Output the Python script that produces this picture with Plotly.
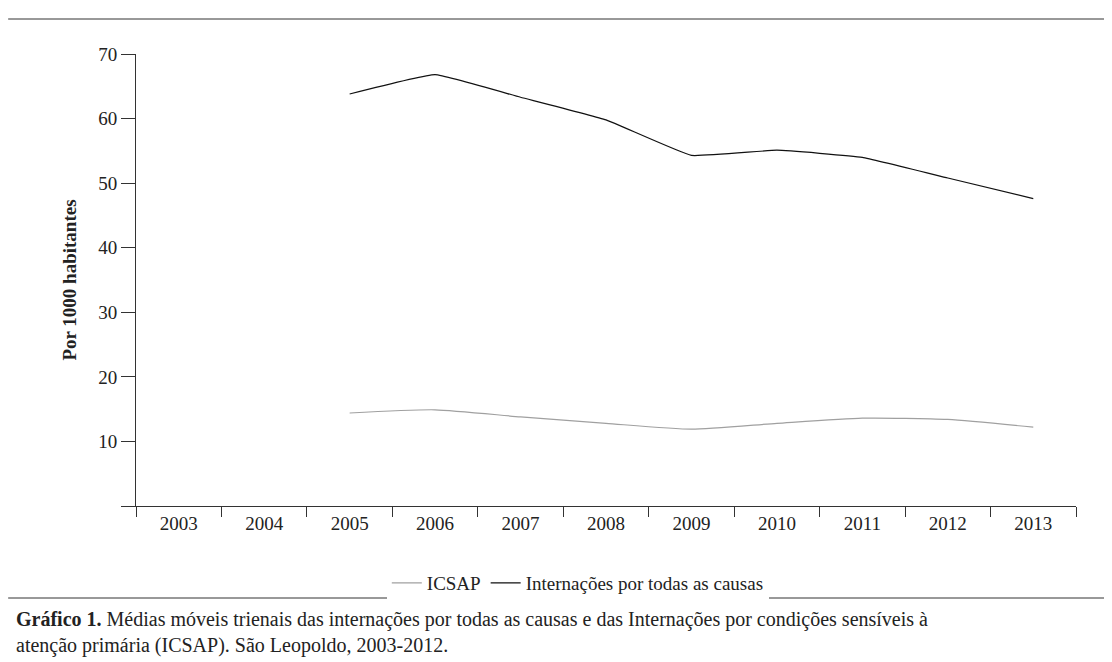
import plotly.graph_objects as go

anos = ["2003", "2004", "2005", "2006", "2007", "2008", "2009", "2010", "2011", "2012", "2013"]
icsap = [None, None, 14.4, 14.9, 13.8, 12.8, 11.9, 12.8, 13.6, 13.4, 12.2]
todas_causas = [None, None, 63.8, 66.8, 63.3, 59.8, 54.3, 55.1, 54.0, 50.8, 47.6]

fonte = "Liberation Serif"
H = 452  # altura da área do gráfico em px

fig = go.Figure()
fig.add_trace(go.Scatter(x=anos, y=icsap, mode="lines", name="ICSAP",
                         line=dict(color="#a0a0a0", width=1.2, shape="spline", smoothing=0.6)))
fig.add_trace(go.Scatter(x=anos, y=todas_causas, mode="lines", name="Internações por todas as causas",
                         line=dict(color="#111111", width=1.2, shape="spline", smoothing=0.3)))

fig.update_layout(
    width=1112, height=662,
    paper_bgcolor="white", plot_bgcolor="white",
    margin=dict(l=128, r=44, t=46, b=164, autoexpand=False),
    font=dict(family=fonte, size=19, color="#222"),
    showlegend=True,
    legend=dict(orientation="h", x=0.47, xanchor="center", y=-(556 - 498) / H, yanchor="top",
                font=dict(size=19)),
    xaxis=dict(type="category", tickson="boundaries", ticks="outside", ticklen=10,
               tickcolor="#333", showline=True, linecolor="#333", showgrid=False,
               range=[-0.5, 10.5]),
    yaxis=dict(range=[0, 70], tickvals=[0, 10, 20, 30, 40, 50, 60, 70],
               ticktext=["", "10", "20", "30", "40", "50", "60", "70"],
               ticks="outside", ticklen=14, tickcolor="#333", showline=True,
               linecolor="#333", showgrid=False, zeroline=False,
               title=dict(text="<b>Por 1000 habitantes</b>", font=dict(size=19), standoff=16)),
)

# linhas horizontais de moldura
fig.add_shape(type="line", xref="paper", yref="paper", x0=-0.136, x1=1.047,
              y0=(662 - 11 - 164) / H, y1=(662 - 11 - 164) / H, line=dict(color="#333", width=1))
fig.add_shape(type="line", xref="paper", yref="paper", x0=-0.136, x1=1.047,
              y0=-(590 - 498) / H, y1=-(590 - 498) / H, line=dict(color="#333", width=1))

fig.add_annotation(
    xref="paper", yref="paper", x=-0.13, y=-(598 - 498) / H, xanchor="left", yanchor="top",
    align="left", showarrow=False, font=dict(size=20),
    text="<b>Gráfico 1.</b> Médias móveis trienais das internações por todas as causas e das Internações por condições sensíveis à<br>atenção primária (ICSAP). São Leopoldo, 2003-2012.")

fig.write_html("out.html")
